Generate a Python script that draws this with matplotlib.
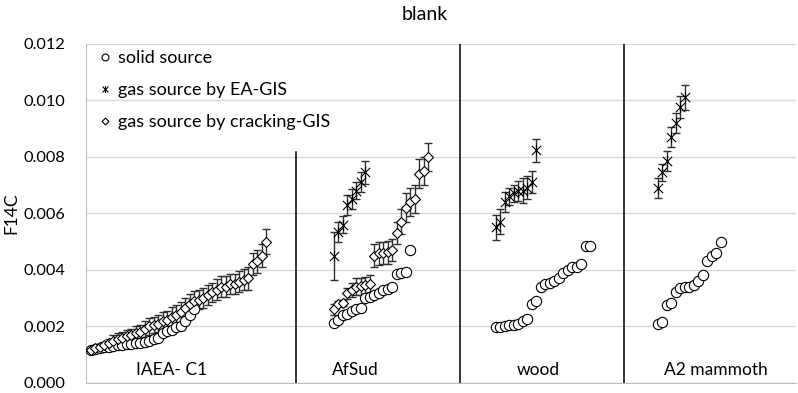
import numpy as np
import matplotlib
matplotlib.use("Agg")
import matplotlib.pyplot as plt
from matplotlib.path import Path
from matplotlib.lines import Line2D

plt.rcParams["font.family"] = ["Lato", "DejaVu Sans"]

# group names and where each group's samples start (sample slots on a hidden x axis)
groups = ["IAEA- C1", "AfSud", "wood", "A2 mammoth"]
group_start = [1, 55, 91, 127]
group_label_x = [19.1, 59.9, 100.4, 140.0]
separators = [46.6, 83.1, 119.6]
separator_bottom = [0.0, 0.0, 0.0]
separator_top = [0.00815, 0.012, 0.012]

# solid source (circles)
solid_iaea = [0.00118, 0.00120, 0.00123, 0.00126, 0.00128, 0.00131, 0.00133, 0.00135,
              0.00137, 0.00139, 0.00140, 0.00143, 0.00146, 0.00150, 0.00155, 0.00160,
              0.00175, 0.00183, 0.00188, 0.00197, 0.00200, 0.00220, 0.00240, 0.00260]
solid_afsud = [0.00213, 0.00222, 0.00240, 0.00245, 0.00256, 0.00260, 0.00266, 0.00300,
               0.00305, 0.00310, 0.00317, 0.00327, 0.00334, 0.00340, 0.00387, 0.00390,
               0.00394, 0.00470]
solid_wood = [0.00198, 0.00198, 0.00200, 0.00206, 0.00206, 0.00210, 0.00220, 0.00227,
              0.00280, 0.00290, 0.00340, 0.00350, 0.00355, 0.00360, 0.00370, 0.00390,
              0.00400, 0.00410, 0.00410, 0.00420, 0.00485, 0.00485]
solid_mammoth = [0.00208, 0.00214, 0.00275, 0.00282, 0.00322, 0.00336, 0.00338, 0.00340,
                 0.00348, 0.00360, 0.00380, 0.00430, 0.00450, 0.00460, 0.00500]

# gas source by EA-GIS (stars) with errors
ea_afsud = [0.00450, 0.00535, 0.00560, 0.00630, 0.00650, 0.00680, 0.00710, 0.00745]
ea_afsud_err = [0.00085, 0.00035, 0.00030, 0.00035, 0.00035, 0.00030, 0.00035, 0.00040]
ea_wood = [0.00550, 0.00570, 0.00640, 0.00660, 0.00670, 0.00680, 0.00680, 0.00690,
           0.00710, 0.00822]
ea_wood_err = [0.00045, 0.00045, 0.00035, 0.00030, 0.00030, 0.00035, 0.00045, 0.00040,
               0.00040, 0.00040]
ea_mammoth = [0.00690, 0.00745, 0.00785, 0.00870, 0.00920, 0.00975, 0.01010]
ea_mammoth_err = [0.00035, 0.00030, 0.00035, 0.00035, 0.00035, 0.00040, 0.00045]

# gas source by cracking-GIS (diamonds) with errors
crack_iaea = [0.00118, 0.00122, 0.00128, 0.00133, 0.00140, 0.00150, 0.00155, 0.00160,
              0.00165, 0.00170, 0.00175, 0.00180, 0.00190, 0.00200, 0.00205, 0.00210,
              0.00220, 0.00222, 0.00235, 0.00240, 0.00250, 0.00265, 0.00280, 0.00290,
              0.00295, 0.00300, 0.00310, 0.00320, 0.00330, 0.00340, 0.00340, 0.00350,
              0.00350, 0.00358, 0.00365, 0.00370, 0.00420, 0.00430, 0.00450, 0.00500]
crack_iaea_err = [0.00005, 0.00008, 0.00010, 0.00012, 0.00015, 0.00018, 0.00020, 0.00020,
                  0.00022, 0.00022, 0.00025, 0.00025, 0.00028, 0.00030, 0.00030, 0.00030,
                  0.00032, 0.00032, 0.00033, 0.00035, 0.00035, 0.00035, 0.00035, 0.00035,
                  0.00035, 0.00035, 0.00035, 0.00035, 0.00037, 0.00037, 0.00037, 0.00037,
                  0.00037, 0.00037, 0.00038, 0.00040, 0.00040, 0.00040, 0.00040, 0.00045]
crack_afsud = [0.00260, 0.00280, 0.00282, 0.00317, 0.00330, 0.00340, 0.00342, 0.00345,
               0.00350, 0.00450, 0.00458, 0.00460, 0.00462, 0.00470, 0.00530, 0.00570,
               0.00620, 0.00640, 0.00650, 0.00740, 0.00750, 0.00800]
crack_afsud_err = [0.00020, 0.00010, 0.00010, 0.00020, 0.00025, 0.00030, 0.00030, 0.00030,
                   0.00030, 0.00040, 0.00040, 0.00040, 0.00040, 0.00040, 0.00040, 0.00045,
                   0.00050, 0.00050, 0.00050, 0.00050, 0.00050, 0.00050]

yticks = [0.000, 0.002, 0.004, 0.006, 0.008, 0.010, 0.012]

# Excel-like star marker: X with a vertical stroke
star = Path([(-1, -1), (1, 1), (-1, 1), (1, -1), (0, -1.2), (0, 1.2)],
            [Path.MOVETO, Path.LINETO, Path.MOVETO, Path.LINETO, Path.MOVETO, Path.LINETO])

fig = plt.figure(figsize=(7.98, 3.93), dpi=100)
ax = fig.add_axes([86 / 798, 10 / 393, 710 / 798, 339.5 / 393])

grid_c = "#d9d9d9"
err_c = "#303030"


def xs(start, vals):
    return start + np.arange(len(vals))


def draw_solid(start, vals):
    ax.plot(xs(start, vals), vals, ls="none", marker="o", ms=7.4, mfc="white",
            mec="black", mew=0.8, zorder=4)


def draw_ea(start, vals, err):
    ax.errorbar(xs(start, vals), vals, yerr=err, ls="none", ecolor=err_c, elinewidth=1,
                capsize=3, capthick=1, zorder=3)
    ax.plot(xs(start, vals), vals, ls="none", marker=star, ms=8, mec="black",
            mew=0.8, zorder=5)


def draw_crack(start, vals, err):
    ax.errorbar(xs(start, vals), vals, yerr=err, ls="none", ecolor=err_c, elinewidth=1,
                capsize=3, capthick=1, zorder=3)
    ax.plot(xs(start, vals), vals, ls="none", marker="D", ms=5, mfc="white",
            mec="black", mew=0.8, zorder=5)


draw_solid(group_start[0], solid_iaea)
draw_crack(group_start[0], crack_iaea, crack_iaea_err)

draw_solid(group_start[1], solid_afsud)
draw_crack(group_start[1], crack_afsud, crack_afsud_err)
draw_ea(group_start[1], ea_afsud, ea_afsud_err)

draw_solid(group_start[2], solid_wood)
draw_ea(group_start[2], ea_wood, ea_wood_err)

draw_solid(group_start[3], solid_mammoth)
draw_ea(group_start[3], ea_mammoth, ea_mammoth_err)

for sx, y0, y1 in zip(separators, separator_bottom, separator_top):
    ax.plot([sx, sx], [y0, y1], color="black", lw=1.1, zorder=2)

for lx, name in zip(group_label_x, groups):
    ax.text(lx, 0.00047, name, ha="center", va="center", fontsize=12.5)

ax.set_xlim(0, 710 / 4.5)
ax.set_ylim(0, 0.012)
ax.set_yticks(yticks)
ax.set_yticklabels([f"{t:.3f}" for t in yticks], fontsize=11.8)
ax.set_xticks([])
ax.tick_params(axis="y", length=0, pad=15)
ax.grid(axis="y", color=grid_c, lw=1)
ax.set_axisbelow(True)
for side in ["top", "right"]:
    ax.spines[side].set_visible(False)
ax.spines["left"].set_color("#bfbfbf")
ax.spines["bottom"].set_color("#bfbfbf")
ax.set_ylabel("F14C", fontsize=12.5)
ax.yaxis.set_label_coords(-67 / 710, 0.5)

fig.text(425 / 798, 1 - 14 / 393, "blank", ha="center", va="center", fontsize=14)

handles = [
    Line2D([], [], ls="none", marker="o", ms=5, mfc="white", mec="black", mew=0.8),
    Line2D([], [], ls="none", marker=star, ms=5, mec="black", mew=0.8),
    Line2D([], [], ls="none", marker="D", ms=3.5, mfc="white", mec="black", mew=0.8),
]
labels = ["solid source", "gas source by EA-GIS", "gas source by cracking-GIS"]
fig.legend(handles, labels, loc="upper left", bbox_to_anchor=(99 / 798, 1 - 50 / 393),
           frameon=False, fontsize=13, handlelength=0.7, handletextpad=0.35,
           labelspacing=0.9, borderpad=0, borderaxespad=0)

fig.savefig("out.png", dpi=100)
